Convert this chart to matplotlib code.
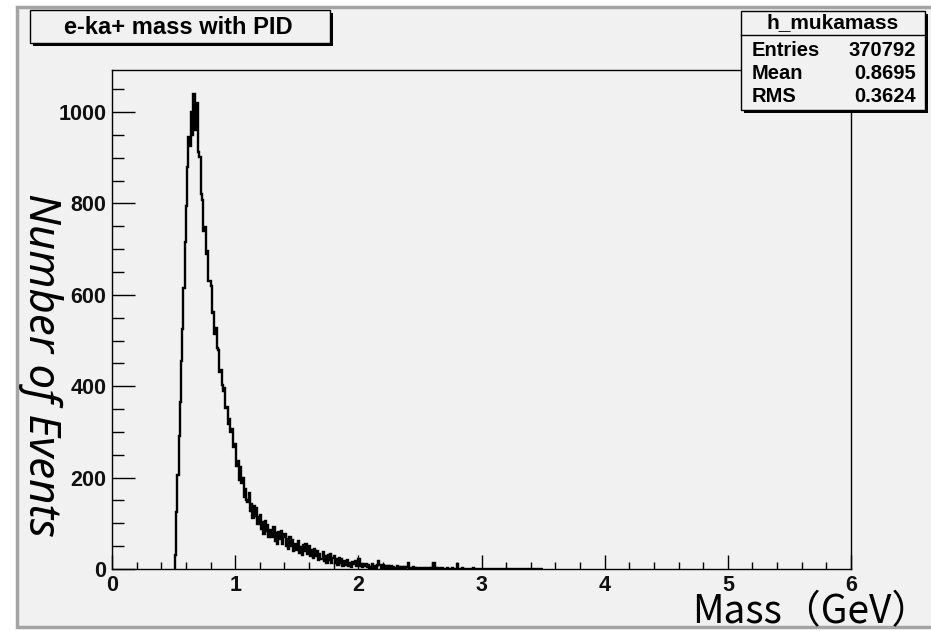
# -*- coding: utf-8 -*-
"""ROOT-style histogram of the e-ka+ invariant mass with PID."""

import matplotlib
matplotlib.use("Agg")
import matplotlib.pyplot as plt
from matplotlib.patches import Rectangle
from matplotlib.ticker import MultipleLocator
import numpy as np

# Histogram contents, bins of 0.01 GeV starting at 0.50 GeV.
BIN_START = 0.50
BIN_WIDTH = 0.01
counts = [
    0, 30, 125, 205, 290, 365, 455, 525, 615, 715,            # 0.50
    795, 880, 945, 925, 1000, 950, 1040, 960, 1010, 1020,     # 0.60
    913, 902, 820, 808, 740, 748, 690, 695, 630, 630,         # 0.70
    620, 561, 563, 515, 528, 484, 480, 432, 436, 403,         # 0.80
    390, 396, 353, 355, 318, 329, 300, 306, 268, 272,         # 0.90
    274, 225, 237, 195, 224, 189, 199, 158, 174, 150,         # 1.00
    146, 166, 128, 143, 112, 138, 116, 134, 99, 114,          # 1.10
    119, 87, 103, 76, 105, 84, 97, 70, 86, 71,                # 1.20
    71, 91, 62, 78, 55, 81, 65, 83, 55, 70,                   # 1.30
    77, 51, 66, 43, 69, 51, 64, 40, 55, 42,                   # 1.40
    43, 61, 35, 49, 30, 52, 39, 55, 32, 45,                   # 1.50
    50, 29, 41, 23, 44, 29, 39, 20, 32, 22,                   # 1.60
    22, 37, 17, 28, 13, 31, 20, 33, 14, 24,                   # 1.70
    29, 13, 22, 9, 24, 13, 21, 7, 17, 8,                      # 1.80
    10, 19, 7, 14, 5, 16, 10, 18, 6, 13,                      # 1.90
    22, 6, 11, 4, 12, 7, 11, 4, 8, 3,                         # 2.00
    5, 10, 3, 7, 2, 9, 18, 9, 3, 7,                           # 2.10
    8, 3, 6, 2, 6, 3, 6, 2, 4, 2,                             # 2.20
    3, 6, 1, 4, 1, 5, 3, 5, 2, 4,                             # 2.30
    14, 1, 3, 1, 4, 2, 3, 1, 2, 1,                            # 2.40
    1, 3, 1, 2, 0, 3, 1, 2, 1, 2,                             # 2.50
    2, 13, 1, 2, 1, 2, 0, 1, 2, 1,                            # 2.60
    1, 0, 2, 1, 1, 0, 2, 1, 0, 1,                             # 2.70
    11, 1, 0, 1, 2, 0, 1, 0, 1, 0,                            # 2.80
    1, 0, 0, 2, 0, 1, 0, 0, 1, 0,                             # 2.90
    0, 1, 0, 0, 1, 0, 0, 1, 0, 0,                             # 3.00
    1, 0, 0, 0, 1, 0, 0, 0, 1, 0,                             # 3.10
    0, 0, 1, 0, 0, 0, 0, 1, 0, 0,                             # 3.20
    0, 1, 0, 0, 0, 1, 0, 0, 0, 0,                             # 3.30
    0, 0, 0, 1, 0, 0, 0, 0, 0, 0,                             # 3.40
]

title = "e-ka+ mass with PID"
hist_name = "h_mukamass"
stat_names = ["Entries", "Mean", "RMS"]
stat_values = ["370792", "0.8695", "0.3624"]
x_label = "Mass（GeV）"
y_label = "Number of Events"

W, H = 931, 631
BG = "#f1f1f1"


def fx(px):
    return px / W


def fy(py):
    return 1 - py / H


def main():
    fig = plt.figure(figsize=(W / 100, H / 100), dpi=100, facecolor="white")

    # Gray canvas panel with its border (behind everything)
    fig.patches.append(Rectangle((fx(17), fy(627)), 1.2, fy(7) - fy(627),
                                 transform=fig.transFigure, facecolor=BG,
                                 edgecolor="#a4a4a4", lw=2.5, zorder=-10))

    ax = fig.add_axes([fx(112), fy(569), fx(851) - fx(112), fy(70) - fy(569)])
    ax.set_facecolor(BG)

    edges = BIN_START + BIN_WIDTH * np.arange(len(counts) + 1)
    ax.stairs(counts, edges, color="black", lw=1.7, baseline=None)

    ax.set_xlim(0, 6)
    ax.set_ylim(0, 1092)
    ax.xaxis.set_major_locator(MultipleLocator(1))
    ax.xaxis.set_minor_locator(MultipleLocator(0.2))
    ax.yaxis.set_major_locator(MultipleLocator(200))
    ax.yaxis.set_minor_locator(MultipleLocator(50))
    ax.tick_params(axis="x", which="major", direction="in", length=10, width=1, pad=4)
    ax.tick_params(axis="x", which="minor", direction="in", length=5, width=1)
    ax.tick_params(axis="y", which="major", direction="in", length=16.5, width=1, pad=4)
    ax.tick_params(axis="y", which="minor", direction="in", length=8.5, width=1)
    for lab in ax.get_xticklabels() + ax.get_yticklabels():
        lab.set_fontfamily("Liberation Sans")
        lab.set_fontweight("bold")
        lab.set_fontsize(15.5)
        lab.set_color("#101010")
    for sp in ax.spines.values():
        sp.set_linewidth(1)

    # Axis titles
    fig.text(fx(40), fy(365), y_label, rotation=-90, ha="center", va="center",
             fontsize=31.5, style="italic", family=["Noto Sans", "DejaVu Sans"])
    fig.text(fx(930), fy(623), x_label, ha="right", va="baseline",
             fontsize=28, family=["Noto Sans CJK JP", "DejaVu Sans"])

    # Title box with drop shadow
    fig.patches.append(Rectangle((fx(33), fy(46)), fx(300), fy(10) - fy(43),
                                 transform=fig.transFigure, facecolor="black",
                                 edgecolor="none", zorder=3))
    fig.patches.append(Rectangle((fx(30), fy(43)), fx(300), fy(10) - fy(43),
                                 transform=fig.transFigure, facecolor=BG,
                                 edgecolor="black", lw=1, zorder=4))
    fig.text(fx(178), fy(27), title, ha="center", va="center", fontsize=17,
             fontweight="bold", family="Liberation Sans", zorder=5)

    # Statistics box
    fig.patches.append(Rectangle((fx(744), fy(113)), fx(184), fy(11) - fy(110),
                                 transform=fig.transFigure, facecolor="black",
                                 edgecolor="none", zorder=3))
    fig.patches.append(Rectangle((fx(741), fy(110)), fx(184), fy(11) - fy(110),
                                 transform=fig.transFigure, facecolor=BG,
                                 edgecolor="black", lw=1, zorder=4))
    fig.lines.append(plt.Line2D([fx(741), fx(925)], [fy(35), fy(35)],
                                transform=fig.transFigure, color="black",
                                lw=1, zorder=5))
    fig.text(fx(833), fy(23), hist_name, ha="center", va="center", fontsize=15,
             fontweight="bold", family="Liberation Sans", zorder=5)
    for i, (name, val) in enumerate(zip(stat_names, stat_values)):
        y = 50 + 23.5 * i
        fig.text(fx(752), fy(y), name, ha="left", va="center", fontsize=14.5,
                 fontweight="bold", family="Liberation Sans", zorder=5)
        fig.text(fx(916), fy(y), val, ha="right", va="center", fontsize=14.5,
                 fontweight="bold", family="Liberation Sans", zorder=5)

    fig.savefig("out.png", dpi=100, facecolor="white")
    plt.close(fig)


if __name__ == "__main__":
    main()
